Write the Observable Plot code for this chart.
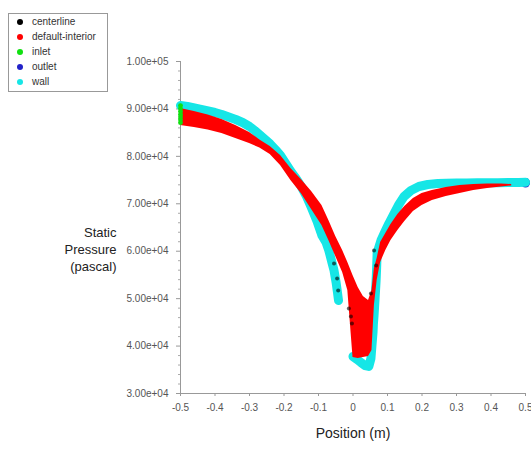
<!DOCTYPE html>
<html><head><meta charset="utf-8">
<script src="https://cdn.jsdelivr.net/npm/d3@7"></script>
<script src="https://cdn.jsdelivr.net/npm/@observablehq/plot@0.6"></script>
<style>
body{margin:0;background:#fff;font-family:"Liberation Sans",Arial,sans-serif}
#wrap{position:relative;width:531px;height:457px}
#legend{position:absolute;left:8px;top:13px;width:100px;height:79px;border:1px solid #999;background:#fff;box-sizing:border-box;font-size:10px;color:#333}
.item{position:absolute;left:0;width:98px;height:12px;line-height:12px;white-space:nowrap}
.mk{position:absolute;left:8px;top:3px;width:6px;height:6px;border-radius:50%}
.lb{position:absolute;left:23px;top:0}
</style></head>
<body><div id="wrap"></div>
<script>
// ---- data ----
const categories = ["centerline", "default-interior", "inlet", "outlet", "wall"];
const seriesColors = ["#000000", "#ff0000", "#10e010", "#2222c8", "#16e6e6"];

const xTicks = [-0.5, -0.4, -0.3, -0.2, -0.1, 0, 0.1, 0.2, 0.3, 0.4, 0.5];
const yTicks = [30000, 40000, 50000, 60000, 70000, 80000, 90000, 100000];

const wallX = [-0.50,-0.48,-0.46,-0.44,-0.42,-0.40,-0.38,-0.36,-0.34,-0.32,
  -0.30,-0.285,-0.27,-0.255,-0.24,-0.225,-0.21,-0.195,-0.18,-0.165,
  -0.15,-0.136,-0.122,-0.104,-0.09,-0.078,-0.07,-0.061,-0.055,-0.049,
  -0.045,-0.042,
  0.000,0.012,0.023,0.035,0.046,0.052,0.055,0.058,
  0.059,0.061,0.0625,0.064,0.0655,0.067,0.0685,0.070,
  0.081,0.093,0.104,0.119,0.133,0.148,0.168,0.191,0.217,0.246,
  0.27,0.30,0.33,0.36,0.39,0.42,0.45,0.48,0.50];
const wallY = [90723,90512,90196,89880,89563,89247,88826,88299,87771,87139,
  86295,85452,84503,83554,82606,81446,80181,78494,76808,75332,
  73645,71747,69428,66265,63314,61838,60151,57621,55935,53405,
  51297,49610,
  37800,37170,36536,35900,35700,37380,40120,42860,
  44500,46447,48200,50030,52000,53826,56500,59730,
  62260,64157,65844,67953,69850,71536,72800,73645,74066,74278,
  74320,74360,74400,74420,74440,74460,74480,74500,74520];

const interiorX = [-0.50,-0.46,-0.42,-0.38,-0.34,-0.30,-0.27,-0.24,-0.21,-0.18,
  -0.15,-0.12,-0.09,-0.07,-0.05,-0.03,-0.015,0.000,0.015,0.03,
  0.045,0.055,0.062,0.070,0.08,0.095,0.11,0.13,0.15,0.175,
  0.20,0.23,0.27,0.31,0.35,0.39,0.43,0.46];
const interiorHigh = [90090,89458,88720,87771,86506,85030,83449,82079,80181,77440,
  75121,72591,69640,66478,63105,60151,57621,54880,52350,50454,
  49610,51718,56357,58465,61838,63735,65633,67742,69428,71115,
  72170,72802,73434,73856,74066,74172,74172,74066];
const interiorLow = [86506,86085,85557,84820,83765,82711,81762,80392,78073,74910,
  72170,68795,65422,62262,58886,55513,51718,37593,37382,37593,
  37803,39068,48556,53826,57621,60151,62262,64368,66265,68374,
  69640,70694,71536,72170,72802,73224,73540,73750];

const centerlineX = [-0.055,-0.046,-0.043,-0.012,-0.006,-0.003,0.052,0.061,0.067];
const centerlineY = [57410,54248,51718,47922,46236,44760,51086,60150,56990];

const inletX = -0.5;
const inletY = [90700,90100,89500,88900,88300,87700,87100];
const outletX = 0.5;
const outletY = [74600,74500,74400,74300];

// ---- build tables ----
const wall = wallX.map((x, i) => ({x, y: wallY[i], part: x < -0.01 ? "upstream" : "throat"}));
const interior = interiorX.map((x, i) => ({x, hi: interiorHigh[i], lo: interiorLow[i]}));
const centerline = centerlineX.map((x, i) => ({x, y: centerlineY[i]}));
const inlet = inletY.map(y => ({x: inletX, y}));
const outlet = outletY.map(y => ({x: outletX, y}));
const minorY = d3.range(30000, 100001, 2000).filter(v => !yTicks.includes(v));

const fmtY = d => {
  const [m, e] = d.toExponential(2).split("e");
  return m + "e" + e[0] + e.slice(1).padStart(2, "0");
};
const fmtX = d => d === 0 ? "0" : d.toFixed(1);

const chart = Plot.plot({
  width: 531, height: 457,
  marginLeft: 180, marginRight: 6, marginTop: 61, marginBottom: 64,
  style: {fontFamily: "'Liberation Sans', Arial, sans-serif", fontSize: "10px", color: "#555", background: "white"},
  x: {domain: [-0.5, 0.5]},
  y: {domain: [30000, 100000]},
  marks: [
    Plot.axisX(xTicks, {tickSize: 3, tickPadding: 7, tickFormat: fmtX, label: null, stroke: "#999"}),
    Plot.axisY(yTicks, {tickSize: 4, tickPadding: 8, tickFormat: fmtY, label: null, stroke: "#999"}),
    Plot.axisY(minorY, {tickSize: 2, tickFormat: () => "", label: null, stroke: "#aaa"}),
    Plot.ruleX([-0.5], {stroke: "#999"}),
    Plot.ruleY([30000], {stroke: "#999"}),
    Plot.dot(outlet, {x: "x", y: "y", r: 4, fill: seriesColors[3]}),
    Plot.line(wall, {x: "x", y: "y", z: "part", stroke: seriesColors[4], strokeWidth: 9, strokeLinecap: "round", strokeLinejoin: "round"}),
    Plot.areaY(interior, {x: "x", y1: "lo", y2: "hi", fill: seriesColors[1]}),
    Plot.dot(centerline, {x: "x", y: "y", r: 2, fill: seriesColors[0], fillOpacity: 0.6}),
    Plot.dot(inlet, {x: "x", y: "y", r: 2.4, fill: seriesColors[2]}),
    Plot.text(["Static\nPressure\n(pascal)"], {frameAnchor: "left", dx: -64, dy: 21, fontSize: 13, textAnchor: "end", lineHeight: 1.3, fill: "#222"}),
    Plot.text(["Position (m)"], {frameAnchor: "bottom", dy: 44, fontSize: 14, fill: "#222"})
  ]
});

const wrap = document.getElementById("wrap");
wrap.appendChild(chart);

const legend = document.createElement("div");
legend.id = "legend";
categories.forEach((c, i) => {
  const it = document.createElement("div");
  it.className = "item";
  it.style.top = (2 + i * 15) + "px";
  const mk = document.createElement("span");
  mk.className = "mk";
  mk.style.background = seriesColors[i];
  const lb = document.createElement("span");
  lb.className = "lb";
  lb.textContent = c;
  it.appendChild(mk); it.appendChild(lb);
  legend.appendChild(it);
});
wrap.appendChild(legend);
</script>
</body></html>
